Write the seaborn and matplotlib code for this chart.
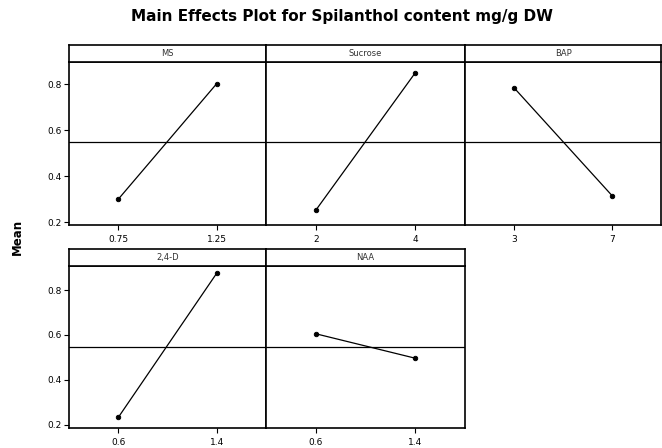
import matplotlib
matplotlib.use("Agg")
import matplotlib.pyplot as plt
import seaborn as sns
import pandas as pd

# ---- data ----
factors = ["MS", "Sucrose", "BAP", "2,4-D", "NAA"]
levels = [["0.75", "1.25"], ["2", "4"], ["3", "7"], ["0.6", "1.4"], ["0.6", "1.4"]]
means = [[0.300, 0.803], [0.252, 0.850], [0.785, 0.316], [0.232, 0.875], [0.605, 0.496]]
grand_mean = 0.548
yticks = [0.2, 0.4, 0.6, 0.8]
yticklabels = ["0.2", "0.4", "0.6", "0.8"]
title = "Main Effects Plot for Spilanthol content mg/g DW"
ylabel = "Mean"

rows = []
for f, lv, mv in zip(factors, levels, means):
    for l, m in zip(lv, mv):
        rows.append({"factor": f, "level": l, "mean": m})
df = pd.DataFrame(rows)

sns.set_style("white")
plt.rcParams["font.family"] = ["DejaVu Sans"]
plt.rcParams["text.color"] = "black"

W, H = 662, 448
fig = plt.figure(figsize=(W / 100, H / 100), dpi=100)

def box(x0, y0, x1, y1):
    # pixel coords from top-left -> figure fraction rect
    return [x0 / W, 1 - y1 / H, (x1 - x0) / W, (y1 - y0) / H]

col_edges = [69, 266, 465, 661]
row_geom = [  # strip top, strip bottom / data top, data bottom, ylim
    (45, 62, 225, (0.188, 0.897)),
    (249, 266, 428, (0.185, 0.907)),
]

for i, f in enumerate(factors):
    r, c = divmod(i, 3)
    st, sb, db, ylim = row_geom[r]
    x0, x1 = col_edges[c], col_edges[c + 1]
    ax = fig.add_axes(box(x0, sb, x1, db))
    sub = df[df["factor"] == f]
    sns.pointplot(data=sub, x="level", y="mean", order=levels[i], color="black",
                  markers="o", markersize=3.2, linewidth=0.9, ax=ax)
    ax.axhline(grand_mean, color="black", lw=0.9, zorder=0)
    ax.set_xlim(-0.5, 1.5)
    ax.set_ylim(*ylim)
    ax.set_xlabel("")
    ax.set_ylabel("")
    ax.set_yticks(yticks)
    ax.tick_params(axis="both", labelsize=6.5, length=3.5, width=0.8, pad=1.5,
                   direction="out", colors="black")
    ax.tick_params(axis="x", pad=4)
    if c == 0:
        ax.set_yticklabels(yticklabels)
        ax.tick_params(axis="y", left=True)
    else:
        ax.tick_params(axis="y", left=False, labelleft=False)
    ax.tick_params(axis="x", bottom=True)
    for s in ax.spines.values():
        s.set_color("black")
        s.set_linewidth(1.2)
    # strip
    sax = fig.add_axes(box(x0, st, x1, sb))
    sax.set_xticks([])
    sax.set_yticks([])
    for s in sax.spines.values():
        s.set_color("black")
        s.set_linewidth(1.2)
    sax.text(0.5, 0.5, f, ha="center", va="center", fontsize=6,
             color="#333333", transform=sax.transAxes)

fig.text(342 / W, 1 - 17 / H, title, ha="center", va="center",
         fontsize=11, fontweight="bold", color="black")
fig.text(17 / W, 1 - 237 / H, ylabel, ha="center", va="center",
         fontsize=8.5, fontweight="bold", rotation=90, color="black")

fig.savefig("out.png", dpi=100)
